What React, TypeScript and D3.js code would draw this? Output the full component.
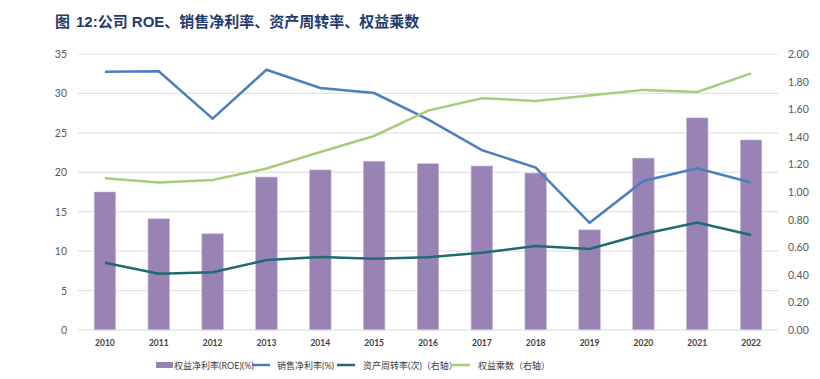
import React from "react";
import * as d3 from "d3";

const years = ["2010","2011","2012","2013","2014","2015","2016","2017","2018","2019","2020","2021","2022"];
const roe = [17.5, 14.1, 12.2, 19.4, 20.3, 21.4, 21.1, 20.8, 19.9, 12.7, 21.8, 26.9, 24.1];
const netMargin = [32.75, 32.8, 26.8, 33.0, 30.7, 30.05, 26.7, 22.8, 20.6, 13.6, 18.9, 20.5, 18.7];
const turnover = [0.488, 0.408, 0.418, 0.507, 0.529, 0.517, 0.527, 0.56, 0.609, 0.587, 0.696, 0.778, 0.688];
const multiplier = [1.099, 1.068, 1.087, 1.17, 1.29, 1.406, 1.59, 1.68, 1.66, 1.70, 1.74, 1.725, 1.86];
const leftTicks = [0, 5, 10, 15, 20, 25, 30, 35];
const rightTicks = [0, 0.2, 0.4, 0.6, 0.8, 1.0, 1.2, 1.4, 1.6, 1.8, 2.0];
const legendLabels = ["权益净利率(ROE)(%)", "销售净利率(%)", "资产周转率(次)（右轴）", "权益乘数（右轴）"];

const C_BAR = "#9983b4";
const C_BLUE = "#4a7ebd";
const C_TEAL = "#206a74";
const C_GREEN = "#a8cc7c";

export default function App() {
  const W = 820, H = 379;
  const left = 78, right = 778, top = 54, bottom = 330;
  const x = d3.scaleBand<string>().domain(years).range([left, right]).paddingInner(0.6).paddingOuter(0.3);
  const yL = d3.scaleLinear().domain([0, 35]).range([bottom, top]);
  const yR = d3.scaleLinear().domain([0, 2]).range([bottom, top]);
  const cx = (i: number) => (x(years[i]) as number) + x.bandwidth() / 2;
  const lineL = d3.line<number>().x((_, i) => cx(i)).y((d) => yL(d));
  const lineR = d3.line<number>().x((_, i) => cx(i)).y((d) => yR(d));
  const font = "Lato, 'Noto Sans CJK SC', sans-serif";
  const titleFont = "'Liberation Sans', 'Noto Sans CJK SC', sans-serif";
  const legendItems = [
    { x: 156, tx: 174, color: C_BAR, rect: true },
    { x: 252, tx: 277, color: C_BLUE, rect: false },
    { x: 337, tx: 363, color: C_TEAL, rect: false },
    { x: 452, tx: 478, color: C_GREEN, rect: false },
  ];
  return (
    <svg width={W} height={H} style={{ position: "absolute", left: 0, top: 0, background: "#fff" }} fontFamily={font}>
      <text x={55} y={27} fontSize={15} fontWeight="bold" fill="#1f3c6e" fontFamily={titleFont}>图</text>
      <text x={76} y={27} fontSize={15} fontWeight="bold" fill="#1f3c6e" fontFamily={titleFont}>12:公司 ROE、销售净利率、资产周转率、权益乘数</text>
      {leftTicks.map((t) => (
        <g key={t}>
          {t > 0 && <line x1={left} x2={right} y1={yL(t)} y2={yL(t)} stroke="#e3e3e3" strokeWidth={1.2} />}
          <text x={67} y={yL(t) + 4} fontSize={10.5} fill="#595959" textAnchor="end">{t}</text>
        </g>
      ))}
      {rightTicks.map((t) => (
        <text key={t} x={788} y={yR(t) + 4} fontSize={10.5} fill="#595959">{t.toFixed(2)}</text>
      ))}
      {roe.map((v, i) => (
        <rect key={i} x={x(years[i])} y={yL(v)} width={x.bandwidth()} height={bottom - yL(v)} fill={C_BAR} stroke="#c9bdd9" strokeWidth={0.6} />
      ))}
      <line x1={left} x2={right} y1={bottom} y2={bottom} stroke="#d9d9d9" strokeWidth={1.2} />
      <path d={lineL(netMargin) || ""} fill="none" stroke={C_BLUE} strokeWidth={2.5} />
      <path d={lineR(turnover) || ""} fill="none" stroke={C_TEAL} strokeWidth={2.5} />
      <path d={lineR(multiplier) || ""} fill="none" stroke={C_GREEN} strokeWidth={2.5} />
      {years.map((y, i) => (
        <text key={y} x={cx(i)} y={346} fontSize={8.5} fontWeight="bold" fill="#404040" textAnchor="middle">{y}</text>
      ))}
      {legendItems.map((it, i) => (
        <g key={i}>
          {it.rect ? (
            <rect x={it.x} y={362} width={17} height={6} fill={it.color} />
          ) : (
            <line x1={it.x} x2={it.x + 18} y1={365} y2={365} stroke={it.color} strokeWidth={2.5} />
          )}
          <text x={it.tx} y={368.5} fontSize={9} fill="#404040">{legendLabels[i]}</text>
        </g>
      ))}
    </svg>
  );
}
